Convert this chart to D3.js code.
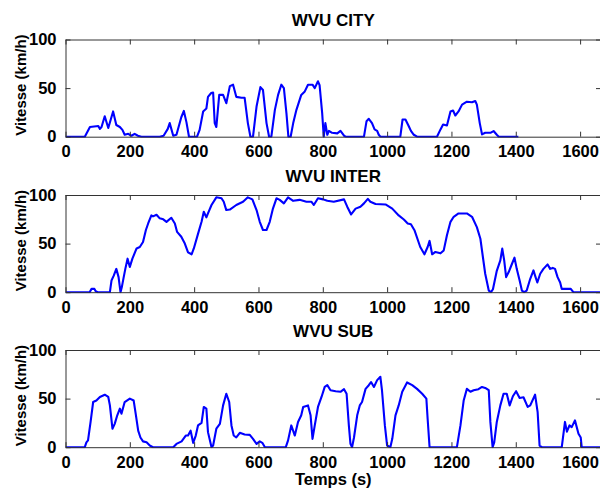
<!DOCTYPE html>
<html>
<head>
<meta charset="utf-8">
<script src="https://cdn.jsdelivr.net/npm/d3@7"></script>
<style>
  html, body { margin: 0; padding: 0; background: #fff; }
  svg { display: block; }
  text { font-family: "Liberation Sans", Arial, Helvetica, sans-serif; font-weight: bold; fill: #000; }
</style>
</head>
<body>
<svg id="chart" width="600" height="488"></svg>
<script>
// ---- data ----
const titles = ["WVU CITY", "WVU INTER", "WVU SUB"];
const xTicks = [0, 200, 400, 600, 800, 1000, 1200, 1400, 1600];
const yTicks = [0, 50, 100];
const xLabel = "Temps (s)";
const yLabel = "Vitesse (km/h)";

const cityTime  = [0,60,76,102,107,112,122,133,148,158,169,177,184,195,205,215,225,236,293,305,318,324,335,345,360,368,376,384,409,417,428,438,443,453,459,464,469,478,490,500,511,521,531,547,557,567,575,583,594,606,614,625,633,640,651,661,671,679,687,693,700,708,718,733,744,754,768,775,785,790,798,803,808,814,819,829,845,855,866,871,928,936,943,953,961,969,974,979,1041,1048,1057,1067,1074,1083,1093,1155,1166,1174,1186,1197,1205,1212,1222,1233,1248,1264,1274,1279,1288,1295,1305,1321,1331,1341,1347,1408];
const citySpeed = [0,0,10,11,8,10,21,9,26,12,10,7,2,3,1,3,1,0,0,1,8,14,1,2,20,26.5,15,0,0,7,26,29,41,45,45.5,14,10,43,43,34.5,52,53.5,41,40,40,14,0,0,31,51,48,14,0,0,27.6,43,53.5,50,24,0,0,14,27.6,43,46.6,53.5,53.5,50,57,53,24.5,0,14,2,6,4,3.4,6,1,0,0,16,18.4,14,7.5,6,2,0,0,17.7,17.7,11,6,2,0,0,7.5,12.6,11.6,26,27,21.8,26,33,36,35.4,36.7,33,14,2.4,4,4,5.8,2,0,0];

const interTime  = [0,55,75,81,90,94,100,138,143,150,158,165,171,175,181,186,193,200,208,221,231,241,250,257,267,272,283,293,304,314,329,340,347,360,371,381,392,399,412,423,430,438,443,454,469,485,492,500,511,531,552,567,581,594,604,614,625,635,645,656,666,679,692,708,728,749,765,772,785,801,814,834,866,876,888,902,917,928,940,948,964,995,1016,1036,1052,1064,1074,1085,1103,1116,1126,1132,1140,1150,1166,1176,1186,1197,1207,1222,1248,1264,1279,1290,1297,1305,1316,1323,1329,1341,1352,1358,1364,1370,1378,1388,1396,1403,1412,1419,1426,1434,1445,1455,1460,1467,1476,1486,1499,1507,1515,1522,1530,1538,1543,1559,1571,1579,1664];
const interSpeed = [0,0,0,3.4,3.4,1,0,0,12,17,24,15.5,0,5,15.5,24,34.5,26,34.5,45,46.5,51.7,64,70.7,79,78,79.7,76,75,72.4,76.6,70.7,62,57,50,41,39,45,60,72.4,82.8,77,81,89.7,97.6,96.6,93,84.5,85,89.7,93,97.6,95.5,84.5,72.4,64,64,72.4,86,96.6,95,91.4,97.6,94,95,93,93,89.7,96.6,95.5,94,93,95.5,88,80,86,88,91.4,96,93,90.7,90.3,86,79,74.8,70.7,70,63.8,46.5,39,46.5,52.8,39,41.4,40,43,58.6,72.4,77.6,81,81,77.6,67,55,38,19,1.7,0,3,22,32.8,44.8,32.8,15.5,20.7,29,35.5,24,12,1.7,0,1.7,13.8,22.4,17,10,19,24,28.6,24,25,24,15.5,10,3.4,3.4,3.4,0,0];

const subTime  = [0,60,65,70,78,86,96,107,122,133,138,146,153,161,169,174,184,200,212,219,226,233,241,252,262,272,335,345,361,374,381,389,397,405,412,423,430,438,443,454,459,469,480,490,500,509,516,523,531,542,557,573,583,594,604,612,620,685,692,702,713,723,733,739,754,762,768,775,785,796,806,814,824,840,855,866,874,881,886,891,897,907,915,922,933,943,950,959,969,979,984,993,1000,1010,1016,1026,1036,1047,1062,1078,1093,1109,1122,1126,1132,1217,1228,1238,1248,1259,1269,1284,1295,1305,1316,1321,1328,1333,1341,1352,1362,1372,1381,1391,1401,1412,1424,1437,1445,1460,1468,1474,1481,1543,1553,1559,1567,1574,1584,1595,1602,1605,1664];
const subSpeed = [0,0,5,7,26,46.5,48,51.7,54,51.7,43,19,24,32.8,39.7,34.5,46.5,50,48,32.8,17,10,6,5,1.7,0,0,3.4,6,12,12,17,4.5,12,22.4,25,41.4,39.7,15.5,0,1.7,19,24,43,55,46.5,22.4,12,10,14.8,13,12.7,8.6,3.4,6,4.5,0,0,7,22.4,12,26,32.8,41.4,43,32.8,8.6,22.4,41.4,51.7,62,63.8,58.6,57.6,57,59.7,55,22.4,3.4,0,10,32.8,43,46.5,60,63.8,67,62,69,72.4,58.6,22.4,1.7,0,8.6,32.8,43,57,66.6,63.8,60,55,50,29,0,0,22.4,48,60,57,58.6,59.7,62,61,58.6,26,0,5,26,43,55,55,43,52.4,57.6,50.7,51.4,41.4,43,54,36,1.7,0,0,26,16,22.4,20.7,27.6,13.8,10,0,0];

const series = [
  { title: titles[0], time: cityTime,  speed: citySpeed },
  { title: titles[1], time: interTime, speed: interSpeed },
  { title: titles[2], time: subTime,   speed: subSpeed }
];

// ---- layout ----
const svg = d3.select("#chart");
const left = 65.5, right = 601;
const panelTops = [39.5, 195, 350];
const panelH = 97.2;
const tickLen = 5;
const axisColor = "#333";
const fmt = d3.format("d");

const x = d3.scaleLinear().domain([0, 1665]).range([left, right]);

series.forEach((s, i) => {
  const top = panelTops[i], bottom = top + panelH;
  const y = d3.scaleLinear().domain([0, 100]).range([bottom, top]);
  const g = svg.append("g");

  const clipId = "clip" + i;
  svg.append("clipPath").attr("id", clipId)
    .append("rect").attr("x", left).attr("y", top - 2).attr("width", right - left).attr("height", panelH + 3);

  // data line
  const line = d3.line().x((d, k) => x(s.time[k])).y((d, k) => y(s.speed[k]));
  g.append("path")
    .datum(s.speed)
    .attr("clip-path", `url(#${clipId})`)
    .attr("d", line)
    .attr("fill", "none")
    .attr("stroke", "#0000ff")
    .attr("stroke-width", 2.1)
    .attr("stroke-linejoin", "round");

  // axes (inward ticks, box)
  const axB = d3.axisBottom(x).tickValues(xTicks).tickFormat(fmt).tickSizeInner(-tickLen).tickSizeOuter(0).tickPadding(9);
  const axT = d3.axisTop(x).tickValues(xTicks).tickSizeInner(-tickLen).tickSizeOuter(0).tickFormat("");
  const axL = d3.axisLeft(y).tickValues(yTicks).tickFormat(fmt).tickSizeInner(-tickLen).tickSizeOuter(0).tickPadding(9);
  const axR = d3.axisRight(y).tickValues(yTicks).tickSizeInner(-tickLen).tickSizeOuter(0).tickFormat("");

  const gb = g.append("g").attr("transform", `translate(0,${bottom})`).call(axB);
  const gt = g.append("g").attr("transform", `translate(0,${top})`).call(axT);
  const gl = g.append("g").attr("transform", `translate(${left},0)`).call(axL);
  const gr = g.append("g").attr("transform", `translate(${right},0)`).call(axR);

  [gb, gt, gl, gr].forEach(a => {
    a.selectAll("path.domain").attr("stroke", axisColor).attr("stroke-width", 1);
    a.selectAll(".tick line").attr("stroke", axisColor).attr("stroke-width", 1);
    a.selectAll("text").attr("font-size", 16.5).attr("font-weight", "bold")
      .attr("font-family", '"Liberation Sans", Arial, sans-serif').attr("fill", "#000");
  });
  gb.selectAll("text").attr("dy", "0.71em");

  // title
  g.append("text")
    .attr("x", (left + right) / 2)
    .attr("y", top - 13.5)
    .attr("text-anchor", "middle")
    .attr("font-size", 17)
    .text(s.title);

  // y label
  g.append("text")
    .attr("transform", `translate(26,${(top + bottom) / 2 - 3}) rotate(-90)`)
    .attr("text-anchor", "middle")
    .attr("font-size", 15)
    .text(yLabel);
});

svg.append("text")
  .attr("x", (left + right) / 2)
  .attr("y", 485)
  .attr("text-anchor", "middle")
  .attr("font-size", 16.5)
  .text(xLabel);
</script>
</body>
</html>
